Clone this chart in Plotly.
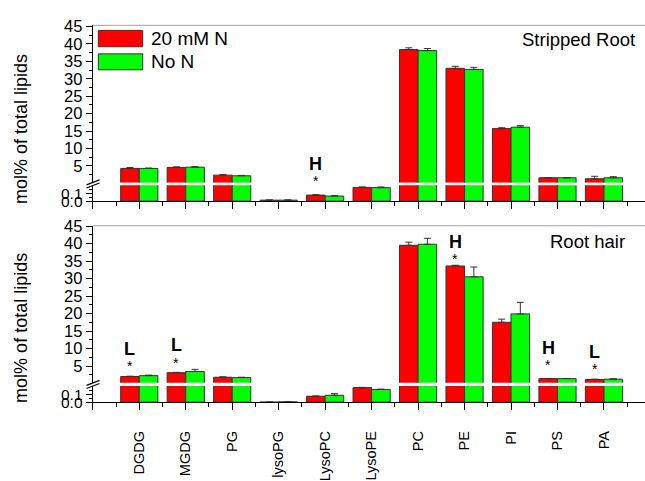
import plotly.graph_objects as go

W, H = 645, 481
FONT = "Liberation Sans, Arial, sans-serif"

# ---------------- data ----------------
categories = ["DGDG", "MGDG", "PG", "lysoPG", "LysoPC", "LysoPE", "PC", "PE", "PI", "PS", "PA"]
series_names = ["20 mM N", "No N"]
series_colors = ["#ff0000", "#00ff00"]

# Stripped Root
sr_20 = [4.26, 4.55, 2.33, 0.012, 0.076, 0.173, 38.4, 33.0, 15.7, 1.58, 1.3]
sr_noN = [4.26, 4.62, 2.15, 0.012, 0.064, 0.170, 38.1, 32.7, 16.1, 1.58, 1.58]
sr_20_err = [0.25, 0.15, 0.2, 0.003, 0.004, 0.005, 0.5, 0.6, 0.25, 0.05, 0.7]
sr_noN_err = [0.1, 0.12, 0.1, 0.003, 0.003, 0.008, 0.6, 0.6, 0.45, 0.05, 0.3]

# Root hair
rh_20 = [2.0, 3.1, 1.8, 0.0, 0.073, 0.180, 39.5, 33.6, 17.5, 1.4, 1.15]
rh_noN = [2.25, 3.45, 1.7, 0.003, 0.085, 0.157, 39.8, 30.5, 19.9, 1.4, 1.25]
rh_20_err = [0.1, 0.1, 0.1, 0.0, 0.003, 0.003, 0.9, 0.2, 0.9, 0.05, 0.1]
rh_noN_err = [0.15, 0.6, 0.1, 0.002, 0.02, 0.004, 1.7, 2.8, 3.3, 0.05, 0.1]

panel_titles = ["Stripped Root", "Root hair"]
y_title = "mol% of total lipids"

# significance marks: (panel, category index, letter, letter y, star y)
sig_marks = [
    (0, 4, "H", 5.5, 0.55),
    (1, 0, "L", 10.0, 5.0),
    (1, 1, "L", 10.9, 5.9),
    (1, 7, "H", 40.4, 35.5),
    (1, 9, "H", 10.2, 5.3),
    (1, 10, "L", 9.1, 4.2),
]

upper_ticks = [5, 10, 15, 20, 25, 30, 35, 40, 45]
lower_ticks = [0.0, 0.1]
lower_ticktext = ["0.0", "0.1"]
break_value = 0.2

# ---------------- helpers ----------------
def px(x):
    return x / W

def py(y):
    return 1 - y / H

x_pos = list(range(len(categories)))
x_left, x_step = 92.8, 46.47
x_range = [-1, -1 + (W - x_left) / x_step]

panels = [
    dict(up=(180.7, 17.0), up_top=45.36, lo=(200.0, 183.5),
         data=(sr_20, sr_noN, sr_20_err, sr_noN_err), title_xy=(637, 31.7), ytitle_y=125),
    dict(up=(389.2, 225.7), up_top=45.08, lo=(409.3, 392.5),
         data=(rh_20, rh_noN, rh_20_err, rh_noN_err), title_xy=(627, 242.3), ytitle_y=332),
]

fig = go.Figure()
layout = dict(
    width=W, height=H,
    margin=dict(l=0, r=0, t=0, b=0),
    paper_bgcolor="white", plot_bgcolor="white",
    showlegend=False,
    font=dict(family=FONT, size=15, color="black"),
    shapes=[], annotations=[],
)

axis_common = dict(showgrid=False, zeroline=False, showline=True, linecolor="black",
                   linewidth=1.3, ticks="outside", tickcolor="black", tickwidth=1.2)

for p, pan in enumerate(panels):
    xa = "x" if p == 0 else "x2"
    ylo = f"y{2*p+1}" if p else "y"
    yup = f"y{2*p+2}"
    xkey = "xaxis" if p == 0 else "xaxis2"
    ylokey = "yaxis" if p == 0 else f"yaxis{2*p+1}"
    yupkey = f"yaxis{2*p+2}"

    layout[xkey] = dict(
        axis_common, domain=[px(x_left), 1], range=x_range, anchor=ylo,
        tickmode="array", tickvals=[-1] + x_pos,
        ticktext=[""] + (categories if p == 1 else [""] * len(categories)),
        showticklabels=(p == 1), tickangle=-90, ticklen=7,
        ticklabelstandoff=15,
        tickfont=dict(family=FONT, size=14.5),
        minor=dict(tickmode="array", tickvals=[i + 0.5 for i in [-1] + x_pos],
                   ticks="outside", ticklen=4, tickcolor="black", tickwidth=1.2),
    )
    layout[ylokey] = dict(
        axis_common, domain=[py(pan["lo"][0]), py(pan["lo"][1])], range=[0, break_value],
        anchor=xa, tickmode="array", tickvals=lower_ticks, ticktext=lower_ticktext,
        ticklen=6, tickfont=dict(size=15.5),
        minor=dict(tickmode="array", tickvals=[0.05, 0.15], ticks="outside", ticklen=3,
                   tickcolor="black", tickwidth=1.2),
    )
    layout[yupkey] = dict(
        axis_common, domain=[py(pan["up"][0]), py(pan["up"][1])], range=[break_value, pan["up_top"]],
        anchor=xa, tickmode="array", tickvals=upper_ticks,
        ticklen=6, tickfont=dict(size=16.5),
        minor=dict(tickmode="array", tickvals=[t - 2.5 for t in upper_ticks], ticks="outside",
                   ticklen=3, tickcolor="black", tickwidth=1.2),
    )

    v20, vno, e20, eno = pan["data"]
    for seg, yax in enumerate((ylo, yup)):
        for s, (vals, errs) in enumerate(((v20, e20), (vno, eno))):
            if seg == 1:
                vals_seg = [v if v > break_value else None for v in vals]
            else:
                vals_seg = list(vals)
            fig.add_trace(go.Bar(
                x=x_pos, y=vals_seg, xaxis=xa, yaxis=yax,
                width=0.4, offset=-0.4 if s == 0 else 0.0,
                marker=dict(color=series_colors[s], line=dict(color="#333333", width=1)),
                error_y=dict(type="data", array=errs, arrayminus=[0] * len(errs), symmetric=False,
                             color="#333333", thickness=1, width=3.5),
                name=series_names[s],
            ))

    layout["shapes"].append(dict(type="line", xref="paper", yref="paper",
                                 x0=px(x_left), x1=1, y0=py(pan["up"][1]), y1=py(pan["up"][1]),
                                 line=dict(color="#a0a0a0", width=1)))
    yb = (pan["up"][0] + pan["lo"][1]) / 2
    for dy in (-1.6, 1.6):
        layout["shapes"].append(dict(type="line", xref="paper", yref="paper",
                                     x0=px(86.5), x1=px(99.5), y0=py(yb + dy + 2.6), y1=py(yb + dy - 2.6),
                                     line=dict(color="black", width=1.2)))
    tx, ty = pan["title_xy"]
    layout["annotations"].append(dict(text=panel_titles[p], xref="paper", yref="paper",
                                      x=px(tx), y=py(ty), xanchor="right", yanchor="middle",
                                      showarrow=False, font=dict(size=18.5)))
    layout["annotations"].append(dict(text=y_title, xref="paper", yref="paper",
                                      x=px(21), y=py(pan["ytitle_y"]), xanchor="center", yanchor="middle",
                                      textangle=-90, showarrow=False, font=dict(size=18)))

for (p, ci, letter, ly, sy) in sig_marks:
    xa = "x" if p == 0 else "x2"
    yup = f"y{2*p+2}"
    layout["annotations"].append(dict(text=f"<b>{letter}</b>", xref=xa, yref=yup, x=ci - 0.2, y=ly,
                                      showarrow=False, font=dict(size=18)))
    layout["annotations"].append(dict(text="*", xref=xa, yref=yup, x=ci - 0.2, y=sy,
                                      showarrow=False, font=dict(size=14)))

for s in range(2):
    y0, y1 = (22.3, 39.3) if s == 0 else (46.7, 63.3)
    layout["shapes"].append(dict(type="rect", xref="paper", yref="paper",
                                 x0=px(98.3), x1=px(142.7), y0=py(y1), y1=py(y0),
                                 fillcolor=series_colors[s], line=dict(color="#333333", width=1)))
    layout["annotations"].append(dict(text=series_names[s], xref="paper", yref="paper",
                                      x=px(148.5), y=py((y0 + y1) / 2), xanchor="left", yanchor="middle",
                                      showarrow=False, font=dict(size=19)))

fig.update_layout(**layout)
fig.write_html("out.html")
